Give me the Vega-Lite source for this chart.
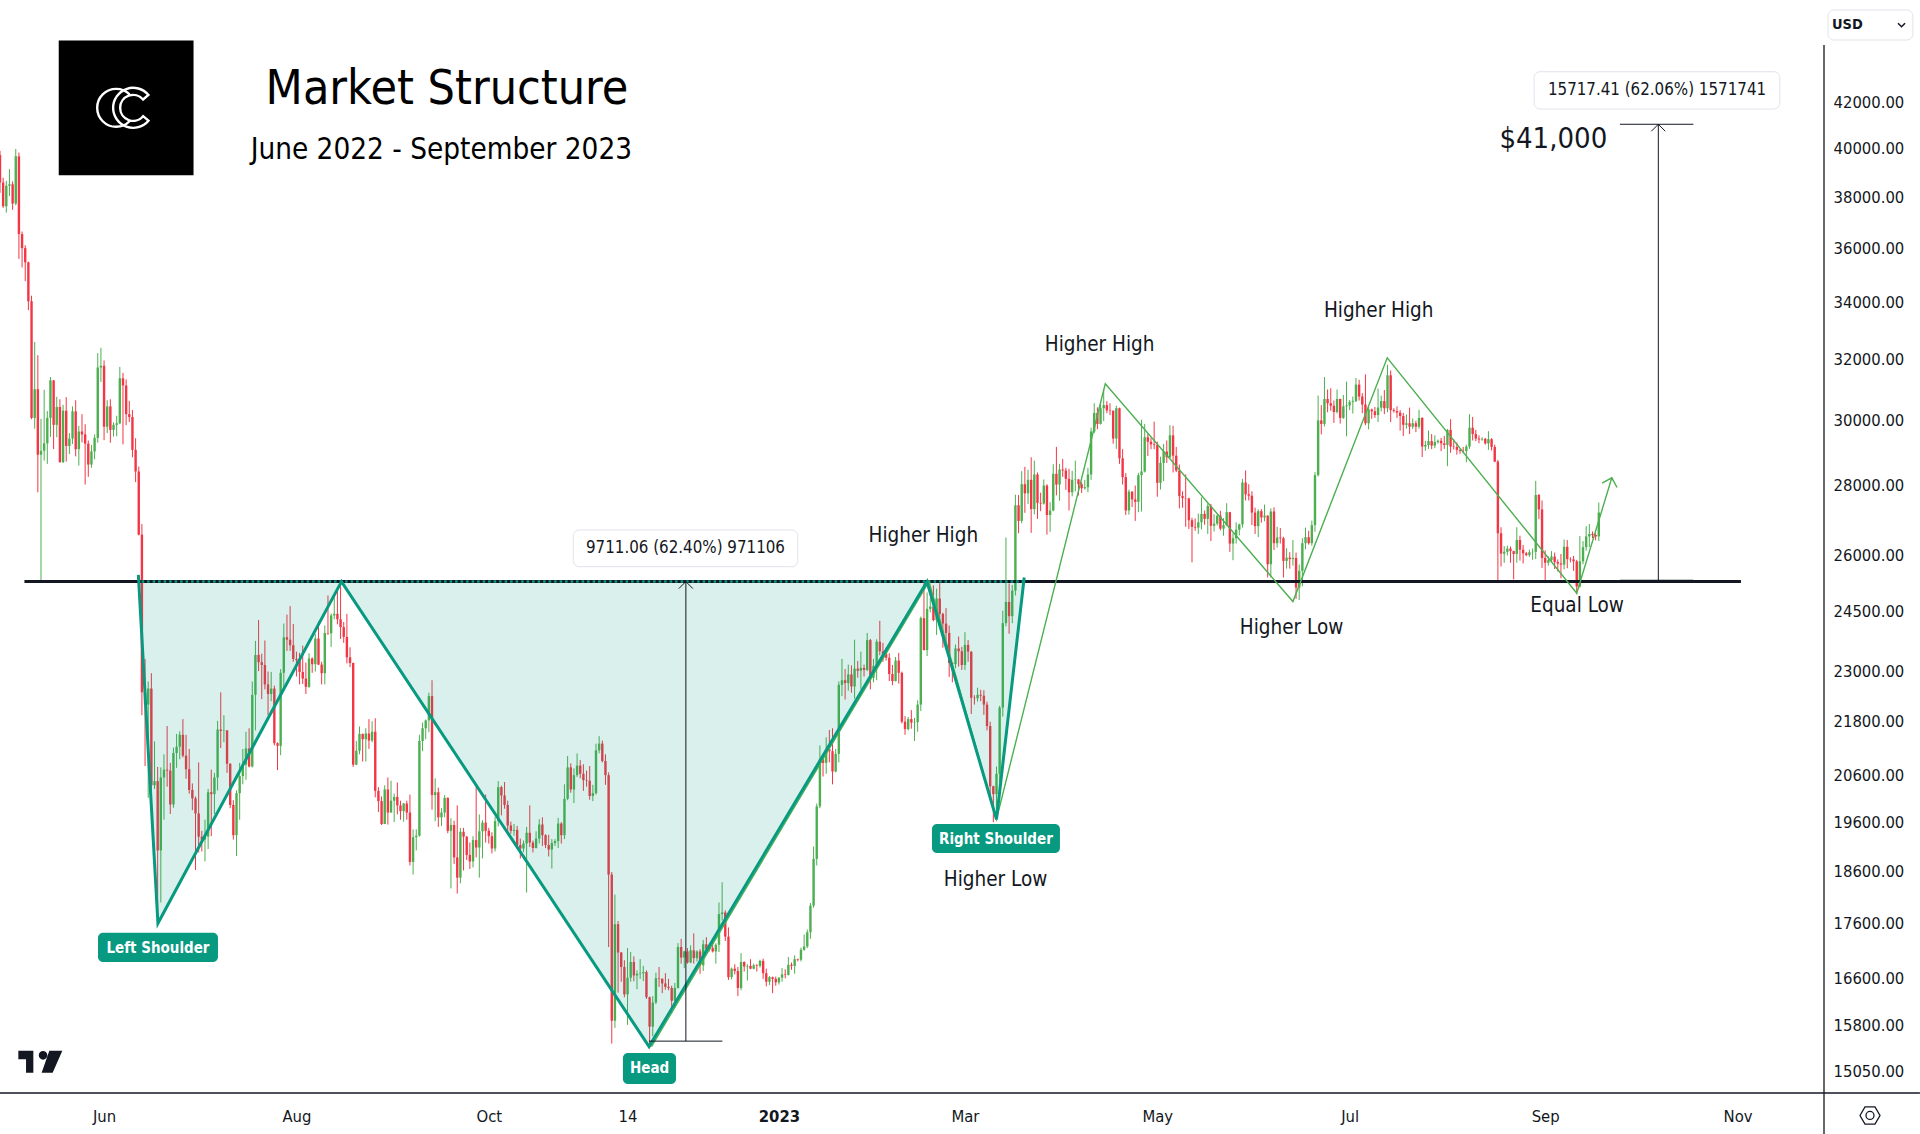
{
  "$schema": "https://vega.github.io/schema/vega-lite/v6.json",
  "width": 1824,
  "height": 1093,
  "autosize": {"type": "none"},
  "padding": {"left": 0, "top": 0, "right": 96, "bottom": 41},
  "background": "white",
  "config": {"view": {"stroke": null}, "font": "DejaVu Sans Condensed"},
  "datasets": {
    "candles": [
      {"date":"2022-04-29","open":39740,"high":39920,"low":38180,"close":38600},
      {"date":"2022-04-30","open":38600,"high":38800,"low":37580,"close":37640},
      {"date":"2022-05-01","open":37640,"high":38670,"low":37390,"close":38470},
      {"date":"2022-05-02","open":38470,"high":39150,"low":38050,"close":38530},
      {"date":"2022-05-03","open":38530,"high":38650,"low":37500,"close":37750},
      {"date":"2022-05-04","open":37750,"high":40000,"low":37680,"close":39690},
      {"date":"2022-05-05","open":39690,"high":39850,"low":35600,"close":36550},
      {"date":"2022-05-06","open":36550,"high":36650,"low":35280,"close":36010},
      {"date":"2022-05-07","open":36010,"high":36120,"low":34770,"close":35470},
      {"date":"2022-05-08","open":35470,"high":35500,"low":33720,"close":34040},
      {"date":"2022-05-09","open":34040,"high":34240,"low":30040,"close":30080},
      {"date":"2022-05-10","open":30080,"high":32600,"low":29740,"close":31010},
      {"date":"2022-05-11","open":31010,"high":32150,"low":27800,"close":28930},
      {"date":"2022-05-12","open":28930,"high":30050,"low":25300,"close":29050},
      {"date":"2022-05-13","open":29050,"high":30990,"low":28750,"close":29280},
      {"date":"2022-05-14","open":29280,"high":30300,"low":28650,"close":30080},
      {"date":"2022-05-15","open":30080,"high":31410,"low":29480,"close":31300},
      {"date":"2022-05-16","open":31300,"high":31310,"low":29100,"close":29860},
      {"date":"2022-05-17","open":29860,"high":30760,"low":29470,"close":30430},
      {"date":"2022-05-18","open":30430,"high":30680,"low":28690,"close":28700},
      {"date":"2022-05-19","open":28700,"high":30500,"low":28680,"close":30310},
      {"date":"2022-05-20","open":30310,"high":30750,"low":28720,"close":29200},
      {"date":"2022-05-21","open":29200,"high":29600,"low":28950,"close":29430},
      {"date":"2022-05-22","open":29430,"high":30450,"low":29260,"close":30290},
      {"date":"2022-05-23","open":30290,"high":30650,"low":28880,"close":29100},
      {"date":"2022-05-24","open":29100,"high":29830,"low":28600,"close":29650},
      {"date":"2022-05-25","open":29650,"high":30200,"low":29310,"close":29560},
      {"date":"2022-05-26","open":29560,"high":29880,"low":28030,"close":29270},
      {"date":"2022-05-27","open":29270,"high":29370,"low":28260,"close":28630},
      {"date":"2022-05-28","open":28630,"high":29230,"low":28530,"close":29030},
      {"date":"2022-05-29","open":29030,"high":29560,"low":28790,"close":29450},
      {"date":"2022-05-30","open":29450,"high":32220,"low":29300,"close":31730},
      {"date":"2022-05-31","open":31730,"high":32400,"low":31250,"close":31790},
      {"date":"2022-06-01","open":31790,"high":31970,"low":29380,"close":29800},
      {"date":"2022-06-02","open":29800,"high":30650,"low":29600,"close":30450},
      {"date":"2022-06-03","open":30450,"high":30680,"low":29300,"close":29700},
      {"date":"2022-06-04","open":29700,"high":29940,"low":29490,"close":29860},
      {"date":"2022-06-05","open":29860,"high":30150,"low":29500,"close":29910},
      {"date":"2022-06-06","open":29910,"high":31750,"low":29880,"close":31370},
      {"date":"2022-06-07","open":31370,"high":31550,"low":29250,"close":31130},
      {"date":"2022-06-08","open":31130,"high":31330,"low":29850,"close":30200},
      {"date":"2022-06-09","open":30200,"high":30630,"low":29950,"close":30110},
      {"date":"2022-06-10","open":30110,"high":30330,"low":28850,"close":29080},
      {"date":"2022-06-11","open":29080,"high":29440,"low":28100,"close":28420},
      {"date":"2022-06-12","open":28420,"high":28570,"low":26560,"close":26580},
      {"date":"2022-06-13","open":26580,"high":26880,"low":21950,"close":22490},
      {"date":"2022-06-14","open":22490,"high":23300,"low":20800,"close":22200},
      {"date":"2022-06-15","open":22200,"high":22750,"low":20110,"close":22580},
      {"date":"2022-06-16","open":22580,"high":22950,"low":20250,"close":20380},
      {"date":"2022-06-17","open":20380,"high":21350,"low":20300,"close":20470},
      {"date":"2022-06-18","open":20470,"high":20780,"low":17620,"close":19020},
      {"date":"2022-06-19","open":19020,"high":20770,"low":18000,"close":20550},
      {"date":"2022-06-20","open":20550,"high":21060,"low":19650,"close":20720},
      {"date":"2022-06-21","open":20720,"high":21700,"low":20350,"close":20700},
      {"date":"2022-06-22","open":20700,"high":20870,"low":19770,"close":19970},
      {"date":"2022-06-23","open":19970,"high":21210,"low":19900,"close":21090},
      {"date":"2022-06-24","open":21090,"high":21520,"low":20760,"close":21230},
      {"date":"2022-06-25","open":21230,"high":21580,"low":20950,"close":21500},
      {"date":"2022-06-26","open":21500,"high":21860,"low":20990,"close":21030},
      {"date":"2022-06-27","open":21030,"high":21500,"low":20520,"close":20730},
      {"date":"2022-06-28","open":20730,"high":21180,"low":20200,"close":20280},
      {"date":"2022-06-29","open":20280,"high":20420,"low":19850,"close":20100},
      {"date":"2022-06-30","open":20100,"high":20140,"low":18630,"close":19780},
      {"date":"2022-07-01","open":19780,"high":20880,"low":18980,"close":19300},
      {"date":"2022-07-02","open":19300,"high":19420,"low":19000,"close":19240},
      {"date":"2022-07-03","open":19240,"high":19650,"low":18800,"close":19300},
      {"date":"2022-07-04","open":19300,"high":20300,"low":19050,"close":20230},
      {"date":"2022-07-05","open":20230,"high":20720,"low":19310,"close":20190},
      {"date":"2022-07-06","open":20190,"high":20650,"low":19770,"close":20550},
      {"date":"2022-07-07","open":20550,"high":21820,"low":20270,"close":21620},
      {"date":"2022-07-08","open":21620,"high":22490,"low":21200,"close":21590},
      {"date":"2022-07-09","open":21590,"high":21950,"low":21330,"close":21600},
      {"date":"2022-07-10","open":21600,"high":21610,"low":20650,"close":20850},
      {"date":"2022-07-11","open":20850,"high":20860,"low":19890,"close":19960},
      {"date":"2022-07-12","open":19960,"high":20060,"low":19240,"close":19330},
      {"date":"2022-07-13","open":19330,"high":20270,"low":18910,"close":20210},
      {"date":"2022-07-14","open":20210,"high":20870,"low":19650,"close":20580},
      {"date":"2022-07-15","open":20580,"high":21180,"low":20400,"close":20830},
      {"date":"2022-07-16","open":20830,"high":21570,"low":20500,"close":21190},
      {"date":"2022-07-17","open":21190,"high":21650,"low":20770,"close":20790},
      {"date":"2022-07-18","open":20790,"high":22750,"low":20770,"close":22430},
      {"date":"2022-07-19","open":22430,"high":23750,"low":21600,"close":23400},
      {"date":"2022-07-20","open":23400,"high":24280,"low":23000,"close":23220},
      {"date":"2022-07-21","open":23220,"high":23430,"low":22330,"close":23150},
      {"date":"2022-07-22","open":23150,"high":23760,"low":22560,"close":22680},
      {"date":"2022-07-23","open":22680,"high":22990,"low":21950,"close":22450},
      {"date":"2022-07-24","open":22450,"high":22980,"low":22280,"close":22580},
      {"date":"2022-07-25","open":22580,"high":22650,"low":21260,"close":21310},
      {"date":"2022-07-26","open":21310,"high":21330,"low":20710,"close":21250},
      {"date":"2022-07-27","open":21250,"high":23050,"low":21040,"close":22960},
      {"date":"2022-07-28","open":22960,"high":24190,"low":22590,"close":23840},
      {"date":"2022-07-29","open":23840,"high":24420,"low":23500,"close":23780},
      {"date":"2022-07-30","open":23780,"high":24640,"low":23500,"close":23640},
      {"date":"2022-07-31","open":23640,"high":24180,"low":23230,"close":23300},
      {"date":"2022-08-01","open":23300,"high":23480,"low":22870,"close":23270},
      {"date":"2022-08-02","open":23270,"high":23450,"low":22680,"close":22980},
      {"date":"2022-08-03","open":22980,"high":23630,"low":22690,"close":22820},
      {"date":"2022-08-04","open":22820,"high":23210,"low":22450,"close":22620},
      {"date":"2022-08-05","open":22620,"high":23440,"low":22600,"close":23310},
      {"date":"2022-08-06","open":23310,"high":23340,"low":22960,"close":23170},
      {"date":"2022-08-07","open":23170,"high":23920,"low":22990,"close":23810},
      {"date":"2022-08-08","open":23810,"high":24240,"low":23150,"close":23160},
      {"date":"2022-08-09","open":23160,"high":23230,"low":22680,"close":22950},
      {"date":"2022-08-10","open":22950,"high":24140,"low":22680,"close":23950},
      {"date":"2022-08-11","open":23950,"high":24920,"low":23900,"close":23940},
      {"date":"2022-08-12","open":23940,"high":24450,"low":23600,"close":24400},
      {"date":"2022-08-13","open":24400,"high":24870,"low":24300,"close":24440},
      {"date":"2022-08-14","open":24440,"high":25050,"low":24170,"close":24300},
      {"date":"2022-08-15","open":24300,"high":25250,"low":23800,"close":24100},
      {"date":"2022-08-16","open":24100,"high":24230,"low":23700,"close":23850},
      {"date":"2022-08-17","open":23850,"high":24440,"low":23190,"close":23340},
      {"date":"2022-08-18","open":23340,"high":23590,"low":23100,"close":23200},
      {"date":"2022-08-19","open":23200,"high":23210,"low":20780,"close":20830},
      {"date":"2022-08-20","open":20830,"high":21360,"low":20820,"close":21140},
      {"date":"2022-08-21","open":21140,"high":21690,"low":21060,"close":21520},
      {"date":"2022-08-22","open":21520,"high":21530,"low":20900,"close":21400},
      {"date":"2022-08-23","open":21400,"high":21650,"low":20900,"close":21530},
      {"date":"2022-08-24","open":21530,"high":21860,"low":21180,"close":21370},
      {"date":"2022-08-25","open":21370,"high":21810,"low":21330,"close":21570},
      {"date":"2022-08-26","open":21570,"high":21880,"low":20120,"close":20260},
      {"date":"2022-08-27","open":20260,"high":20340,"low":19810,"close":20040},
      {"date":"2022-08-28","open":20040,"high":20140,"low":19540,"close":19560},
      {"date":"2022-08-29","open":19560,"high":20380,"low":19560,"close":20290},
      {"date":"2022-08-30","open":20290,"high":20550,"low":19550,"close":19800},
      {"date":"2022-08-31","open":19800,"high":20480,"low":19800,"close":20050},
      {"date":"2022-09-01","open":20050,"high":20200,"low":19600,"close":20130},
      {"date":"2022-09-02","open":20130,"high":20440,"low":19760,"close":19950},
      {"date":"2022-09-03","open":19950,"high":20050,"low":19650,"close":19830},
      {"date":"2022-09-04","open":19830,"high":20000,"low":19610,"close":19990},
      {"date":"2022-09-05","open":19990,"high":20050,"low":19650,"close":19800},
      {"date":"2022-09-06","open":19800,"high":20180,"low":18720,"close":18790},
      {"date":"2022-09-07","open":18790,"high":19450,"low":18540,"close":19290},
      {"date":"2022-09-08","open":19290,"high":19450,"low":19020,"close":19320},
      {"date":"2022-09-09","open":19320,"high":21500,"low":19300,"close":21360},
      {"date":"2022-09-10","open":21360,"high":21780,"low":21130,"close":21650},
      {"date":"2022-09-11","open":21650,"high":21850,"low":21400,"close":21830},
      {"date":"2022-09-12","open":21830,"high":22480,"low":21560,"close":22400},
      {"date":"2022-09-13","open":22400,"high":22780,"low":19860,"close":20170},
      {"date":"2022-09-14","open":20170,"high":20530,"low":19620,"close":20230},
      {"date":"2022-09-15","open":20230,"high":20330,"low":19500,"close":19700},
      {"date":"2022-09-16","open":19700,"high":19890,"low":19520,"close":19800},
      {"date":"2022-09-17","open":19800,"high":20170,"low":19700,"close":20110},
      {"date":"2022-09-18","open":20110,"high":20120,"low":19370,"close":19420},
      {"date":"2022-09-19","open":19420,"high":19680,"low":18270,"close":19540},
      {"date":"2022-09-20","open":19540,"high":19630,"low":18750,"close":18880},
      {"date":"2022-09-21","open":18880,"high":19950,"low":18170,"close":18480},
      {"date":"2022-09-22","open":18480,"high":19480,"low":18370,"close":19400},
      {"date":"2022-09-23","open":19400,"high":19480,"low":18620,"close":19300},
      {"date":"2022-09-24","open":19300,"high":19310,"low":18830,"close":18930},
      {"date":"2022-09-25","open":18930,"high":19180,"low":18650,"close":18800},
      {"date":"2022-09-26","open":18800,"high":19310,"low":18680,"close":19230},
      {"date":"2022-09-27","open":19230,"high":20350,"low":18880,"close":19080},
      {"date":"2022-09-28","open":19080,"high":19760,"low":18480,"close":19410},
      {"date":"2022-09-29","open":19410,"high":19640,"low":18860,"close":19590},
      {"date":"2022-09-30","open":19590,"high":20180,"low":19180,"close":19420},
      {"date":"2022-10-01","open":19420,"high":19480,"low":19160,"close":19310},
      {"date":"2022-10-02","open":19310,"high":19390,"low":18960,"close":19060},
      {"date":"2022-10-03","open":19060,"high":19710,"low":19000,"close":19620},
      {"date":"2022-10-04","open":19620,"high":20470,"low":19510,"close":20340},
      {"date":"2022-10-05","open":20340,"high":20370,"low":19740,"close":20160},
      {"date":"2022-10-06","open":20160,"high":20450,"low":19880,"close":19960},
      {"date":"2022-10-07","open":19960,"high":20050,"low":19330,"close":19530},
      {"date":"2022-10-08","open":19530,"high":19610,"low":19360,"close":19420},
      {"date":"2022-10-09","open":19420,"high":19560,"low":19320,"close":19440},
      {"date":"2022-10-10","open":19440,"high":19520,"low":19050,"close":19130},
      {"date":"2022-10-11","open":19130,"high":19260,"low":18860,"close":19060},
      {"date":"2022-10-12","open":19060,"high":19220,"low":18990,"close":19160},
      {"date":"2022-10-13","open":19160,"high":19500,"low":18190,"close":19380},
      {"date":"2022-10-14","open":19380,"high":19950,"low":19090,"close":19180},
      {"date":"2022-10-15","open":19180,"high":19220,"low":18980,"close":19070},
      {"date":"2022-10-16","open":19070,"high":19410,"low":19060,"close":19260},
      {"date":"2022-10-17","open":19260,"high":19660,"low":19160,"close":19550},
      {"date":"2022-10-18","open":19550,"high":19700,"low":19110,"close":19330},
      {"date":"2022-10-19","open":19330,"high":19350,"low":19070,"close":19130},
      {"date":"2022-10-20","open":19130,"high":19340,"low":18900,"close":19040},
      {"date":"2022-10-21","open":19040,"high":19250,"low":18660,"close":19170},
      {"date":"2022-10-22","open":19170,"high":19250,"low":19110,"close":19210},
      {"date":"2022-10-23","open":19210,"high":19690,"low":19070,"close":19570},
      {"date":"2022-10-24","open":19570,"high":19600,"low":19160,"close":19330},
      {"date":"2022-10-25","open":19330,"high":20400,"low":19250,"close":20090},
      {"date":"2022-10-26","open":20090,"high":21020,"low":20060,"close":20770},
      {"date":"2022-10-27","open":20770,"high":20860,"low":20220,"close":20290},
      {"date":"2022-10-28","open":20290,"high":20750,"low":20000,"close":20600},
      {"date":"2022-10-29","open":20600,"high":21080,"low":20560,"close":20810},
      {"date":"2022-10-30","open":20810,"high":20930,"low":20530,"close":20630},
      {"date":"2022-10-31","open":20630,"high":20840,"low":20260,"close":20490},
      {"date":"2022-11-01","open":20490,"high":20700,"low":20350,"close":20480},
      {"date":"2022-11-02","open":20480,"high":20800,"low":20070,"close":20150},
      {"date":"2022-11-03","open":20150,"high":20390,"low":20040,"close":20210},
      {"date":"2022-11-04","open":20210,"high":21300,"low":20180,"close":21150},
      {"date":"2022-11-05","open":21150,"high":21470,"low":21080,"close":21300},
      {"date":"2022-11-06","open":21300,"high":21370,"low":20880,"close":20910},
      {"date":"2022-11-07","open":20910,"high":21060,"low":20390,"close":20600},
      {"date":"2022-11-08","open":20600,"high":20660,"low":17170,"close":18540},
      {"date":"2022-11-09","open":18540,"high":18590,"low":15500,"close":15880},
      {"date":"2022-11-10","open":15880,"high":18150,"low":15760,"close":17590},
      {"date":"2022-11-11","open":17590,"high":17650,"low":16360,"close":17070},
      {"date":"2022-11-12","open":17070,"high":17080,"low":16550,"close":16810},
      {"date":"2022-11-13","open":16810,"high":16930,"low":16280,"close":16330},
      {"date":"2022-11-14","open":16330,"high":17150,"low":15810,"close":16620},
      {"date":"2022-11-15","open":16620,"high":17080,"low":16550,"close":16900},
      {"date":"2022-11-16","open":16900,"high":17000,"low":16560,"close":16660},
      {"date":"2022-11-17","open":16660,"high":16750,"low":16420,"close":16690},
      {"date":"2022-11-18","open":16690,"high":16950,"low":16600,"close":16700},
      {"date":"2022-11-19","open":16700,"high":16830,"low":16560,"close":16720},
      {"date":"2022-11-20","open":16720,"high":16750,"low":16250,"close":16280},
      {"date":"2022-11-21","open":16280,"high":16290,"low":15480,"close":15780},
      {"date":"2022-11-22","open":15780,"high":16300,"low":15620,"close":16190},
      {"date":"2022-11-23","open":16190,"high":16710,"low":16160,"close":16610},
      {"date":"2022-11-24","open":16610,"high":16810,"low":16460,"close":16600},
      {"date":"2022-11-25","open":16600,"high":16610,"low":16350,"close":16520},
      {"date":"2022-11-26","open":16520,"high":16700,"low":16410,"close":16460},
      {"date":"2022-11-27","open":16460,"high":16600,"low":16400,"close":16440},
      {"date":"2022-11-28","open":16440,"high":16480,"low":16000,"close":16220},
      {"date":"2022-11-29","open":16220,"high":16530,"low":16110,"close":16440},
      {"date":"2022-11-30","open":16440,"high":17240,"low":16430,"close":17170},
      {"date":"2022-12-01","open":17170,"high":17320,"low":16870,"close":16980},
      {"date":"2022-12-02","open":16980,"high":17100,"low":16790,"close":17090},
      {"date":"2022-12-03","open":17090,"high":17150,"low":16870,"close":16890},
      {"date":"2022-12-04","open":16890,"high":17200,"low":16880,"close":17110},
      {"date":"2022-12-05","open":17110,"high":17420,"low":16870,"close":16970},
      {"date":"2022-12-06","open":16970,"high":17110,"low":16910,"close":17090},
      {"date":"2022-12-07","open":17090,"high":17130,"low":16690,"close":16840},
      {"date":"2022-12-08","open":16840,"high":17300,"low":16740,"close":17220},
      {"date":"2022-12-09","open":17220,"high":17350,"low":17100,"close":17130},
      {"date":"2022-12-10","open":17130,"high":17230,"low":17090,"close":17150},
      {"date":"2022-12-11","open":17150,"high":17270,"low":17070,"close":17090},
      {"date":"2022-12-12","open":17090,"high":17240,"low":16870,"close":17210},
      {"date":"2022-12-13","open":17210,"high":18000,"low":17080,"close":17780},
      {"date":"2022-12-14","open":17780,"high":18390,"low":17660,"close":17810},
      {"date":"2022-12-15","open":17810,"high":17850,"low":17280,"close":17360},
      {"date":"2022-12-16","open":17360,"high":17530,"low":16580,"close":16630},
      {"date":"2022-12-17","open":16630,"high":16800,"low":16590,"close":16780},
      {"date":"2022-12-18","open":16780,"high":16860,"low":16680,"close":16740},
      {"date":"2022-12-19","open":16740,"high":16810,"low":16300,"close":16440},
      {"date":"2022-12-20","open":16440,"high":17060,"low":16400,"close":16900},
      {"date":"2022-12-21","open":16900,"high":16910,"low":16730,"close":16820},
      {"date":"2022-12-22","open":16820,"high":16860,"low":16570,"close":16830},
      {"date":"2022-12-23","open":16830,"high":16950,"low":16770,"close":16780},
      {"date":"2022-12-24","open":16780,"high":16870,"low":16770,"close":16840},
      {"date":"2022-12-25","open":16840,"high":16860,"low":16730,"close":16830},
      {"date":"2022-12-26","open":16830,"high":16940,"low":16800,"close":16920},
      {"date":"2022-12-27","open":16920,"high":16960,"low":16600,"close":16700},
      {"date":"2022-12-28","open":16700,"high":16780,"low":16470,"close":16550},
      {"date":"2022-12-29","open":16550,"high":16650,"low":16490,"close":16630},
      {"date":"2022-12-30","open":16630,"high":16640,"low":16350,"close":16600},
      {"date":"2022-12-31","open":16600,"high":16640,"low":16480,"close":16540},
      {"date":"2023-01-01","open":16540,"high":16630,"low":16500,"close":16620},
      {"date":"2023-01-02","open":16620,"high":16790,"low":16550,"close":16680},
      {"date":"2023-01-03","open":16680,"high":16770,"low":16610,"close":16670},
      {"date":"2023-01-04","open":16670,"high":16990,"low":16660,"close":16850},
      {"date":"2023-01-05","open":16850,"high":16890,"low":16760,"close":16830},
      {"date":"2023-01-06","open":16830,"high":17020,"low":16690,"close":16950},
      {"date":"2023-01-07","open":16950,"high":16960,"low":16910,"close":16940},
      {"date":"2023-01-08","open":16940,"high":17160,"low":16910,"close":17120},
      {"date":"2023-01-09","open":17120,"high":17400,"low":17100,"close":17180},
      {"date":"2023-01-10","open":17180,"high":17490,"low":17150,"close":17440},
      {"date":"2023-01-11","open":17440,"high":17990,"low":17320,"close":17940},
      {"date":"2023-01-12","open":17940,"high":19100,"low":17900,"close":18850},
      {"date":"2023-01-13","open":18850,"high":19990,"low":18720,"close":19930},
      {"date":"2023-01-14","open":19930,"high":21260,"low":19890,"close":20950},
      {"date":"2023-01-15","open":20950,"high":21060,"low":20570,"close":20870},
      {"date":"2023-01-16","open":20870,"high":21440,"low":20630,"close":21170},
      {"date":"2023-01-17","open":21170,"high":21610,"low":20880,"close":21130},
      {"date":"2023-01-18","open":21130,"high":21650,"low":20400,"close":20680},
      {"date":"2023-01-19","open":20680,"high":21180,"low":20660,"close":21070},
      {"date":"2023-01-20","open":21070,"high":22750,"low":20880,"close":22670},
      {"date":"2023-01-21","open":22670,"high":23300,"low":22400,"close":22780},
      {"date":"2023-01-22","open":22780,"high":23050,"low":22320,"close":22710},
      {"date":"2023-01-23","open":22710,"high":23160,"low":22530,"close":22920},
      {"date":"2023-01-24","open":22920,"high":23140,"low":22480,"close":22630},
      {"date":"2023-01-25","open":22630,"high":23780,"low":22340,"close":23060},
      {"date":"2023-01-26","open":23060,"high":23250,"low":22840,"close":23010},
      {"date":"2023-01-27","open":23010,"high":23480,"low":22560,"close":23080},
      {"date":"2023-01-28","open":23080,"high":23160,"low":22870,"close":23030},
      {"date":"2023-01-29","open":23030,"high":23950,"low":23000,"close":23770},
      {"date":"2023-01-30","open":23770,"high":23800,"low":22560,"close":22840},
      {"date":"2023-01-31","open":22840,"high":23300,"low":22730,"close":23130},
      {"date":"2023-02-01","open":23130,"high":23790,"low":22780,"close":23730},
      {"date":"2023-02-02","open":23730,"high":24260,"low":23390,"close":23490},
      {"date":"2023-02-03","open":23490,"high":23700,"low":23230,"close":23430},
      {"date":"2023-02-04","open":23430,"high":23580,"low":23260,"close":23330},
      {"date":"2023-02-05","open":23330,"high":23440,"low":22760,"close":22930},
      {"date":"2023-02-06","open":22930,"high":23150,"low":22660,"close":22760},
      {"date":"2023-02-07","open":22760,"high":23350,"low":22750,"close":23260},
      {"date":"2023-02-08","open":23260,"high":23450,"low":22700,"close":22960},
      {"date":"2023-02-09","open":22960,"high":22990,"low":21760,"close":21800},
      {"date":"2023-02-10","open":21800,"high":21930,"low":21500,"close":21630},
      {"date":"2023-02-11","open":21630,"high":21910,"low":21600,"close":21860},
      {"date":"2023-02-12","open":21860,"high":22070,"low":21640,"close":21780},
      {"date":"2023-02-13","open":21780,"high":21890,"low":21360,"close":21790},
      {"date":"2023-02-14","open":21790,"high":22300,"low":21570,"close":22200},
      {"date":"2023-02-15","open":22200,"high":24370,"low":22050,"close":24330},
      {"date":"2023-02-16","open":24330,"high":25250,"low":23510,"close":23520},
      {"date":"2023-02-17","open":23520,"high":25000,"low":23370,"close":24570},
      {"date":"2023-02-18","open":24570,"high":24860,"low":24480,"close":24630},
      {"date":"2023-02-19","open":24630,"high":25190,"low":24250,"close":24280},
      {"date":"2023-02-20","open":24280,"high":25100,"low":23900,"close":24840},
      {"date":"2023-02-21","open":24840,"high":25250,"low":24170,"close":24440},
      {"date":"2023-02-22","open":24440,"high":24470,"low":23580,"close":24190},
      {"date":"2023-02-23","open":24190,"high":24590,"low":23630,"close":23950},
      {"date":"2023-02-24","open":23950,"high":24140,"low":22860,"close":23200},
      {"date":"2023-02-25","open":23200,"high":23220,"low":22730,"close":23170},
      {"date":"2023-02-26","open":23170,"high":23660,"low":23070,"close":23560},
      {"date":"2023-02-27","open":23560,"high":23860,"low":23110,"close":23490},
      {"date":"2023-02-28","open":23490,"high":23600,"low":23030,"close":23150},
      {"date":"2023-03-01","open":23150,"high":23970,"low":23030,"close":23650},
      {"date":"2023-03-02","open":23650,"high":23770,"low":23230,"close":23480},
      {"date":"2023-03-03","open":23480,"high":23490,"low":21980,"close":22360},
      {"date":"2023-03-04","open":22360,"high":22420,"low":22200,"close":22350},
      {"date":"2023-03-05","open":22350,"high":22600,"low":22270,"close":22430},
      {"date":"2023-03-06","open":22430,"high":22550,"low":22280,"close":22410},
      {"date":"2023-03-07","open":22410,"high":22540,"low":21960,"close":22200},
      {"date":"2023-03-08","open":22200,"high":22270,"low":21600,"close":21700},
      {"date":"2023-03-09","open":21700,"high":21800,"low":20080,"close":20360},
      {"date":"2023-03-10","open":20360,"high":20370,"low":19600,"close":20190},
      {"date":"2023-03-11","open":20190,"high":20790,"low":19860,"close":20630},
      {"date":"2023-03-12","open":20630,"high":22170,"low":20450,"close":22130},
      {"date":"2023-03-13","open":22130,"high":24520,"low":21920,"close":24200},
      {"date":"2023-03-14","open":24200,"high":26500,"low":24120,"close":24750},
      {"date":"2023-03-15","open":24750,"high":25240,"low":23930,"close":24380},
      {"date":"2023-03-16","open":24380,"high":25200,"low":24200,"close":25050},
      {"date":"2023-03-17","open":25050,"high":27730,"low":24920,"close":27420},
      {"date":"2023-03-18","open":27420,"high":27720,"low":26620,"close":26970},
      {"date":"2023-03-19","open":26970,"high":28430,"low":26900,"close":28040},
      {"date":"2023-03-20","open":28040,"high":28560,"low":27200,"close":27770},
      {"date":"2023-03-21","open":27770,"high":28470,"low":27460,"close":28170},
      {"date":"2023-03-22","open":28170,"high":28850,"low":26630,"close":27310},
      {"date":"2023-03-23","open":27310,"high":28750,"low":27160,"close":28330},
      {"date":"2023-03-24","open":28330,"high":28390,"low":27030,"close":27490},
      {"date":"2023-03-25","open":27490,"high":27790,"low":27250,"close":27470},
      {"date":"2023-03-26","open":27470,"high":28180,"low":27440,"close":28000},
      {"date":"2023-03-27","open":28000,"high":28040,"low":26580,"close":27140},
      {"date":"2023-03-28","open":27140,"high":27510,"low":26660,"close":27270},
      {"date":"2023-03-29","open":27270,"high":28640,"low":27250,"close":28350},
      {"date":"2023-03-30","open":28350,"high":29170,"low":27710,"close":28030},
      {"date":"2023-03-31","open":28030,"high":28650,"low":27550,"close":28480},
      {"date":"2023-04-01","open":28480,"high":28800,"low":28260,"close":28450},
      {"date":"2023-04-02","open":28450,"high":28530,"low":27870,"close":28200},
      {"date":"2023-04-03","open":28200,"high":28500,"low":27270,"close":27800},
      {"date":"2023-04-04","open":27800,"high":28440,"low":27680,"close":28170},
      {"date":"2023-04-05","open":28170,"high":28750,"low":27830,"close":28180},
      {"date":"2023-04-06","open":28180,"high":28190,"low":27710,"close":28040},
      {"date":"2023-04-07","open":28040,"high":28100,"low":27780,"close":27920},
      {"date":"2023-04-08","open":27920,"high":28170,"low":27880,"close":27950},
      {"date":"2023-04-09","open":27950,"high":28530,"low":27800,"close":28330},
      {"date":"2023-04-10","open":28330,"high":29770,"low":28170,"close":29650},
      {"date":"2023-04-11","open":29650,"high":30550,"low":29600,"close":30240},
      {"date":"2023-04-12","open":30240,"high":30420,"low":29720,"close":29890},
      {"date":"2023-04-13","open":29890,"high":30610,"low":29870,"close":30390},
      {"date":"2023-04-14","open":30390,"high":31000,"low":29980,"close":30490},
      {"date":"2023-04-15","open":30490,"high":30620,"low":30230,"close":30320},
      {"date":"2023-04-16","open":30320,"high":30550,"low":30170,"close":30310},
      {"date":"2023-04-17","open":30310,"high":30320,"low":29270,"close":29430},
      {"date":"2023-04-18","open":29430,"high":30470,"low":29110,"close":30390},
      {"date":"2023-04-19","open":30390,"high":30410,"low":28650,"close":28820},
      {"date":"2023-04-20","open":28820,"high":29100,"low":28030,"close":28250},
      {"date":"2023-04-21","open":28250,"high":28370,"low":27140,"close":27270},
      {"date":"2023-04-22","open":27270,"high":27880,"low":27150,"close":27820},
      {"date":"2023-04-23","open":27820,"high":27830,"low":27370,"close":27590},
      {"date":"2023-04-24","open":27590,"high":28000,"low":26970,"close":27520},
      {"date":"2023-04-25","open":27520,"high":28380,"low":27220,"close":28310},
      {"date":"2023-04-26","open":28310,"high":30020,"low":27240,"close":28420},
      {"date":"2023-04-27","open":28420,"high":29890,"low":28390,"close":29470},
      {"date":"2023-04-28","open":29470,"high":29580,"low":28890,"close":29330},
      {"date":"2023-04-29","open":29330,"high":29450,"low":29100,"close":29250},
      {"date":"2023-04-30","open":29250,"high":29960,"low":29100,"close":29230},
      {"date":"2023-05-01","open":29230,"high":29330,"low":27670,"close":28080},
      {"date":"2023-05-02","open":28080,"high":28870,"low":27880,"close":28680},
      {"date":"2023-05-03","open":28680,"high":29260,"low":28130,"close":29030},
      {"date":"2023-05-04","open":29030,"high":29370,"low":28680,"close":28850},
      {"date":"2023-05-05","open":28850,"high":29850,"low":28830,"close":29530},
      {"date":"2023-05-06","open":29530,"high":29830,"low":28390,"close":28900},
      {"date":"2023-05-07","open":28900,"high":29170,"low":28400,"close":28450},
      {"date":"2023-05-08","open":28450,"high":28630,"low":27330,"close":27690},
      {"date":"2023-05-09","open":27690,"high":27830,"low":27350,"close":27630},
      {"date":"2023-05-10","open":27630,"high":28330,"low":26800,"close":27620},
      {"date":"2023-05-11","open":27620,"high":27640,"low":26740,"close":26990},
      {"date":"2023-05-12","open":26990,"high":27060,"low":25810,"close":26800},
      {"date":"2023-05-13","open":26800,"high":27040,"low":26690,"close":26780},
      {"date":"2023-05-14","open":26780,"high":27180,"low":26600,"close":26930},
      {"date":"2023-05-15","open":26930,"high":27650,"low":26730,"close":27170},
      {"date":"2023-05-16","open":27170,"high":27270,"low":26860,"close":27030},
      {"date":"2023-05-17","open":27030,"high":27480,"low":26600,"close":27400},
      {"date":"2023-05-18","open":27400,"high":27460,"low":26400,"close":26830},
      {"date":"2023-05-19","open":26830,"high":27160,"low":26670,"close":26890},
      {"date":"2023-05-20","open":26890,"high":27150,"low":26840,"close":27120},
      {"date":"2023-05-21","open":27120,"high":27260,"low":26700,"close":26750},
      {"date":"2023-05-22","open":26750,"high":27050,"low":26550,"close":26850},
      {"date":"2023-05-23","open":26850,"high":27480,"low":26830,"close":27220},
      {"date":"2023-05-24","open":27220,"high":27230,"low":26100,"close":26330},
      {"date":"2023-05-25","open":26330,"high":26620,"low":25870,"close":26480},
      {"date":"2023-05-26","open":26480,"high":26930,"low":26330,"close":26720},
      {"date":"2023-05-27","open":26720,"high":26890,"low":26560,"close":26870},
      {"date":"2023-05-28","open":26870,"high":28200,"low":26780,"close":28090},
      {"date":"2023-05-29","open":28090,"high":28450,"low":27560,"close":27740},
      {"date":"2023-05-30","open":27740,"high":28040,"low":27560,"close":27700},
      {"date":"2023-05-31","open":27700,"high":27830,"low":26850,"close":27210},
      {"date":"2023-06-01","open":27210,"high":27350,"low":26600,"close":26820},
      {"date":"2023-06-02","open":26820,"high":27300,"low":26510,"close":27250},
      {"date":"2023-06-03","open":27250,"high":27310,"low":26920,"close":27070},
      {"date":"2023-06-04","open":27070,"high":27440,"low":26960,"close":27120},
      {"date":"2023-06-05","open":27120,"high":27130,"low":25400,"close":25760},
      {"date":"2023-06-06","open":25760,"high":27330,"low":25400,"close":27240},
      {"date":"2023-06-07","open":27240,"high":27360,"low":26150,"close":26340},
      {"date":"2023-06-08","open":26340,"high":26800,"low":26220,"close":26500},
      {"date":"2023-06-09","open":26500,"high":26770,"low":26330,"close":26480},
      {"date":"2023-06-10","open":26480,"high":26520,"low":25400,"close":25850},
      {"date":"2023-06-11","open":25850,"high":26200,"low":25640,"close":25940},
      {"date":"2023-06-12","open":25940,"high":26090,"low":25640,"close":25900},
      {"date":"2023-06-13","open":25900,"high":26430,"low":25720,"close":25930},
      {"date":"2023-06-14","open":25930,"high":26080,"low":24830,"close":25130},
      {"date":"2023-06-15","open":25130,"high":25750,"low":24800,"close":25580},
      {"date":"2023-06-16","open":25580,"high":26480,"low":25170,"close":26340},
      {"date":"2023-06-17","open":26340,"high":26780,"low":26170,"close":26510},
      {"date":"2023-06-18","open":26510,"high":26690,"low":26300,"close":26340},
      {"date":"2023-06-19","open":26340,"high":26980,"low":26270,"close":26850},
      {"date":"2023-06-20","open":26850,"high":28400,"low":26660,"close":28310},
      {"date":"2023-06-21","open":28310,"high":30800,"low":28270,"close":30000},
      {"date":"2023-06-22","open":30000,"high":30490,"low":29560,"close":29890},
      {"date":"2023-06-23","open":29890,"high":31410,"low":29810,"close":30690},
      {"date":"2023-06-24","open":30690,"high":31000,"low":30260,"close":30550},
      {"date":"2023-06-25","open":30550,"high":31040,"low":30310,"close":30470},
      {"date":"2023-06-26","open":30470,"high":30640,"low":29920,"close":30270},
      {"date":"2023-06-27","open":30270,"high":31000,"low":30220,"close":30690},
      {"date":"2023-06-28","open":30690,"high":30700,"low":29900,"close":30080},
      {"date":"2023-06-29","open":30080,"high":30820,"low":30050,"close":30450},
      {"date":"2023-06-30","open":30450,"high":31260,"low":29500,"close":30480},
      {"date":"2023-07-01","open":30480,"high":30660,"low":30330,"close":30590},
      {"date":"2023-07-02","open":30590,"high":30770,"low":30220,"close":30620},
      {"date":"2023-07-03","open":30620,"high":31380,"low":30590,"close":31160},
      {"date":"2023-07-04","open":31160,"high":31320,"low":30640,"close":30770},
      {"date":"2023-07-05","open":30770,"high":30880,"low":30230,"close":30510},
      {"date":"2023-07-06","open":30510,"high":31500,"low":29850,"close":29910},
      {"date":"2023-07-07","open":29910,"high":30440,"low":29720,"close":30350},
      {"date":"2023-07-08","open":30350,"high":30380,"low":30050,"close":30290},
      {"date":"2023-07-09","open":30290,"high":30430,"low":30080,"close":30170},
      {"date":"2023-07-10","open":30170,"high":31030,"low":29950,"close":30410},
      {"date":"2023-07-11","open":30410,"high":30800,"low":30290,"close":30620},
      {"date":"2023-07-12","open":30620,"high":30980,"low":30200,"close":30390},
      {"date":"2023-07-13","open":30390,"high":31820,"low":30260,"close":31470},
      {"date":"2023-07-14","open":31470,"high":31630,"low":29950,"close":30330},
      {"date":"2023-07-15","open":30330,"high":30390,"low":30250,"close":30300},
      {"date":"2023-07-16","open":30300,"high":30450,"low":30080,"close":30250},
      {"date":"2023-07-17","open":30250,"high":30330,"low":29680,"close":30140},
      {"date":"2023-07-18","open":30140,"high":30240,"low":29510,"close":29860},
      {"date":"2023-07-19","open":29860,"high":30190,"low":29740,"close":29910},
      {"date":"2023-07-20","open":29910,"high":30410,"low":29570,"close":29800},
      {"date":"2023-07-21","open":29800,"high":30060,"low":29730,"close":29910},
      {"date":"2023-07-22","open":29910,"high":29990,"low":29630,"close":29800},
      {"date":"2023-07-23","open":29800,"high":30340,"low":29740,"close":30080},
      {"date":"2023-07-24","open":30080,"high":30100,"low":28860,"close":29180},
      {"date":"2023-07-25","open":29180,"high":29360,"low":29050,"close":29230},
      {"date":"2023-07-26","open":29230,"high":29680,"low":29110,"close":29350},
      {"date":"2023-07-27","open":29350,"high":29570,"low":29100,"close":29210},
      {"date":"2023-07-28","open":29210,"high":29530,"low":29130,"close":29320},
      {"date":"2023-07-29","open":29320,"high":29400,"low":29270,"close":29360},
      {"date":"2023-07-30","open":29360,"high":29450,"low":29040,"close":29280},
      {"date":"2023-07-31","open":29280,"high":29510,"low":29110,"close":29230},
      {"date":"2023-08-01","open":29230,"high":29730,"low":28580,"close":29700},
      {"date":"2023-08-02","open":29700,"high":30040,"low":28990,"close":29180},
      {"date":"2023-08-03","open":29180,"high":29410,"low":29090,"close":29170},
      {"date":"2023-08-04","open":29170,"high":29310,"low":28930,"close":29080},
      {"date":"2023-08-05","open":29080,"high":29100,"low":28960,"close":29050},
      {"date":"2023-08-06","open":29050,"high":29170,"low":28980,"close":29040},
      {"date":"2023-08-07","open":29040,"high":29240,"low":28700,"close":29180},
      {"date":"2023-08-08","open":29180,"high":30200,"low":29110,"close":29770},
      {"date":"2023-08-09","open":29770,"high":30110,"low":29370,"close":29570},
      {"date":"2023-08-10","open":29570,"high":29700,"low":29350,"close":29430},
      {"date":"2023-08-11","open":29430,"high":29530,"low":29280,"close":29400},
      {"date":"2023-08-12","open":29400,"high":29470,"low":29360,"close":29420},
      {"date":"2023-08-13","open":29420,"high":29450,"low":29240,"close":29280},
      {"date":"2023-08-14","open":29280,"high":29660,"low":29080,"close":29410},
      {"date":"2023-08-15","open":29410,"high":29440,"low":29060,"close":29170},
      {"date":"2023-08-16","open":29170,"high":29240,"low":28700,"close":28720},
      {"date":"2023-08-17","open":28720,"high":28770,"low":25250,"close":26620},
      {"date":"2023-08-18","open":26620,"high":26790,"low":25700,"close":26050},
      {"date":"2023-08-19","open":26050,"high":26260,"low":25800,"close":26100},
      {"date":"2023-08-20","open":26100,"high":26270,"low":26000,"close":26190},
      {"date":"2023-08-21","open":26190,"high":26250,"low":25800,"close":26120},
      {"date":"2023-08-22","open":26120,"high":26130,"low":25350,"close":26040},
      {"date":"2023-08-23","open":26040,"high":26790,"low":25800,"close":26430},
      {"date":"2023-08-24","open":26430,"high":26550,"low":25860,"close":26160},
      {"date":"2023-08-25","open":26160,"high":26290,"low":25780,"close":26060},
      {"date":"2023-08-26","open":26060,"high":26100,"low":25980,"close":26010},
      {"date":"2023-08-27","open":26010,"high":26160,"low":25960,"close":26090},
      {"date":"2023-08-28","open":26090,"high":26190,"low":25880,"close":26100},
      {"date":"2023-08-29","open":26100,"high":28140,"low":25900,"close":27720},
      {"date":"2023-08-30","open":27720,"high":27750,"low":27020,"close":27300},
      {"date":"2023-08-31","open":27300,"high":27560,"low":25660,"close":25930},
      {"date":"2023-09-01","open":25930,"high":26140,"low":25330,"close":25800},
      {"date":"2023-09-02","open":25800,"high":25970,"low":25720,"close":25870},
      {"date":"2023-09-03","open":25870,"high":26120,"low":25820,"close":25970},
      {"date":"2023-09-04","open":25970,"high":26080,"low":25630,"close":25820},
      {"date":"2023-09-05","open":25820,"high":25890,"low":25560,"close":25780},
      {"date":"2023-09-06","open":25780,"high":26040,"low":25380,"close":25750},
      {"date":"2023-09-07","open":25750,"high":26440,"low":25620,"close":26240},
      {"date":"2023-09-08","open":26240,"high":26430,"low":25650,"close":25900},
      {"date":"2023-09-09","open":25900,"high":25950,"low":25810,"close":25890},
      {"date":"2023-09-10","open":25890,"high":25990,"low":25580,"close":25840},
      {"date":"2023-09-11","open":25840,"high":25880,"low":24950,"close":25160},
      {"date":"2023-09-12","open":25160,"high":26540,"low":25130,"close":25840},
      {"date":"2023-09-13","open":25840,"high":26400,"low":25760,"close":26230},
      {"date":"2023-09-14","open":26230,"high":26820,"low":26130,"close":26530},
      {"date":"2023-09-15","open":26530,"high":26880,"low":26230,"close":26600},
      {"date":"2023-09-16","open":26600,"high":26670,"low":26480,"close":26570},
      {"date":"2023-09-17","open":26570,"high":26620,"low":26420,"close":26530},
      {"date":"2023-09-18","open":26530,"high":27500,"low":26400,"close":27210}
    ],
    "zigzag": [
      {"date":"2022-06-11T21:00:00Z","price":25470},
      {"date":"2022-06-18T02:00:00Z","price":17607},
      {"date":"2022-08-15T07:00:00Z","price":25290},
      {"date":"2022-11-20T20:00:00Z","price":15450},
      {"date":"2023-02-16T23:00:00Z","price":25290},
      {"date":"2023-03-11T00:00:00Z","price":19660},
      {"date":"2023-03-19T19:00:00Z","price":25400}
    ],
    "structure": [
      {"date":"2022-11-21T14:00:00Z","price":15450},
      {"date":"2023-02-17T14:00:00Z","price":25290},
      {"date":"2023-03-11T00:00:00Z","price":19660},
      {"date":"2023-04-14T12:00:00Z","price":31190},
      {"date":"2023-06-13T00:00:00Z","price":24760},
      {"date":"2023-07-12T22:00:00Z","price":32060},
      {"date":"2023-09-11T00:00:00Z","price":24980},
      {"date":"2023-09-22T03:00:00Z","price":28230}
    ]
  },
  "layer": [
    {
      "data": {"name": "candles"},
      "mark": {"type": "rule", "strokeWidth": 1},
      "encoding": {
        "x": {
          "field": "date", "type": "temporal",
          "scale": {"type": "utc", "padding": 0, "domain": [{"year": 2022, "month": "apr", "date": 29, "utc": true}, {"year": 2023, "month": "nov", "date": 28, "hours": 10, "utc": true}]},
          "axis": {
            "title": null, "grid": false, "ticks": false, "domain": false,
            "values": [
              {"year": 2022, "month": "jun", "date": 1, "utc": true},
              {"year": 2022, "month": "aug", "date": 1, "utc": true},
              {"year": 2022, "month": "oct", "date": 1, "utc": true},
              {"year": 2022, "month": "nov", "date": 14, "utc": true},
              {"year": 2023, "month": "jan", "date": 1, "utc": true},
              {"year": 2023, "month": "mar", "date": 1, "utc": true},
              {"year": 2023, "month": "may", "date": 1, "utc": true},
              {"year": 2023, "month": "jul", "date": 1, "utc": true},
              {"year": 2023, "month": "sep", "date": 1, "utc": true},
              {"year": 2023, "month": "nov", "date": 1, "utc": true}
            ],
            "labelExpr": "utcdate(datum.value) != 1 ? utcFormat(datum.value, '%-d') : (utcmonth(datum.value) == 0 ? utcFormat(datum.value, '%Y') : utcFormat(datum.value, '%b'))",
            "labelFontWeight": {"condition": {"test": "utcmonth(datum.value) == 0 && utcdate(datum.value) == 1", "value": "bold"}, "value": "normal"},
            "labelFont": "DejaVu Sans Condensed", "labelFontSize": 16.5, "labelColor": "#131722",
            "labelPadding": 15, "labelOverlap": false, "labelFlush": false
          }
        },
        "y": {
          "field": "low", "type": "quantitative",
          "scale": {"type": "log", "domain": [14709, 46840], "nice": false},
          "axis": {
            "title": null, "orient": "right", "grid": false, "ticks": false, "domain": false,
            "values": [15050, 15800, 16600, 17600, 18600, 19600, 20600, 21800, 23000, 24500, 26000, 28000, 30000, 32000, 34000, 36000, 38000, 40000, 42000],
            "format": ".2f",
            "labelFont": "DejaVu Sans Condensed", "labelFontSize": 16.5, "labelColor": "#131722",
            "labelPadding": 9, "labelOverlap": false, "labelFlush": false
          }
        },
        "y2": {"field": "high"},
        "color": {"condition": {"test": "datum.close >= datum.open", "value": "#4caf50"}, "value": "#f23645"}
      }
    },
    {
      "data": {"name": "candles"},
      "mark": {"type": "bar", "size": 2.4},
      "encoding": {
        "x": {"field": "date", "type": "temporal"},
        "y": {"field": "open", "type": "quantitative"},
        "y2": {"field": "close"},
        "color": {"condition": {"test": "datum.close >= datum.open", "value": "#4caf50"}, "value": "#f23645"}
      }
    },
    {
      "data": {"name": "zigzag"},
      "mark": {"type": "area", "color": "#089981", "opacity": 0.15},
      "encoding": {
        "x": {"field": "date", "type": "temporal"},
        "y": {"field": "price", "type": "quantitative"},
        "y2": {"datum": 25290}
      }
    },
    {
      "data": {"values": [{"date": "2022-05-06T18:00:00Z", "date2": "2023-11-02T02:00:00Z", "price": 25290}]},
      "mark": {"type": "rule", "strokeWidth": 3, "color": "#131722"},
      "encoding": {
        "x": {"field": "date", "type": "temporal"},
        "x2": {"field": "date2"},
        "y": {"field": "price", "type": "quantitative"}
      }
    },
    {
      "data": {"values": [{"date": "2022-06-12T22:00:00Z", "date2": "2023-03-19T19:00:00Z", "price": 25290}]},
      "mark": {"type": "rule", "strokeWidth": 2.5, "strokeDash": [2.5, 3], "color": "#089981"},
      "encoding": {
        "x": {"field": "date", "type": "temporal"},
        "x2": {"field": "date2"},
        "y": {"field": "price", "type": "quantitative"}
      }
    },
    {
      "data": {"name": "structure"},
      "mark": {"type": "line", "strokeWidth": 1.4, "color": "#4caf50"},
      "encoding": {
        "x": {"field": "date", "type": "temporal"},
        "y": {"field": "price", "type": "quantitative"}
      }
    },
    {
      "data": {"name": "zigzag"},
      "mark": {"type": "line", "strokeWidth": 3, "color": "#089981"},
      "encoding": {
        "x": {"field": "date", "type": "temporal"},
        "y": {"field": "price", "type": "quantitative"}
      }
    },
    {
      "data": {"values": [{"date": "2023-09-22T03:00:00Z", "price": 28230}]},
      "mark": {"type": "point", "shape": "M-1,1L0,0L1,1", "size": 243, "angle": 16.4, "filled": false, "stroke": "#4caf50", "strokeWidth": 1.4, "opacity": 1},
      "encoding": {
        "x": {"field": "date", "type": "temporal"},
        "y": {"field": "price", "type": "quantitative"}
      }
    },
    {
      "data": {"values": [
        {"date": "2022-12-02T12:00:00Z", "price": 15540, "price2": 25290},
        {"date": "2023-10-06T21:00:00Z", "price": 25326, "price2": 41060}
      ]},
      "mark": {"type": "rule", "strokeWidth": 1, "color": "#131722"},
      "encoding": {
        "x": {"field": "date", "type": "temporal"},
        "y": {"field": "price", "type": "quantitative"},
        "y2": {"field": "price2"}
      }
    },
    {
      "data": {"values": [
        {"date": "2022-11-20T19:00:00Z", "date2": "2022-12-14T02:00:00Z", "price": 15540},
        {"date": "2023-09-24T17:00:00Z", "date2": "2023-10-18T00:00:00Z", "price": 41060},
        {"date": "2023-09-24T17:00:00Z", "date2": "2023-10-18T00:00:00Z", "price": 25326}
      ]},
      "mark": {"type": "rule", "strokeWidth": 1, "color": "#131722"},
      "encoding": {
        "x": {"field": "date", "type": "temporal"},
        "x2": {"field": "date2"},
        "y": {"field": "price", "type": "quantitative"}
      }
    },
    {
      "data": {"values": [
        {"date": "2022-12-02T12:00:00Z", "price": 25290},
        {"date": "2023-10-06T21:00:00Z", "price": 41060}
      ]},
      "mark": {"type": "point", "shape": "M-1,1L0,0L1,1", "size": 196, "filled": false, "stroke": "#131722", "strokeWidth": 1, "opacity": 1},
      "encoding": {
        "x": {"field": "date", "type": "temporal"},
        "y": {"field": "price", "type": "quantitative"}
      }
    },
    {
      "data": {"values": [
        {"date": "2022-10-27T19:00:00Z", "date2": "2023-01-06T23:00:00Z", "price": 25693, "price2": 26712},
        {"date": "2023-08-28T12:00:00Z", "date2": "2023-11-14T10:00:00Z", "price": 41730, "price2": 43412}
      ]},
      "mark": {"type": "rect", "fill": "white", "stroke": "#e0e3eb", "strokeWidth": 1, "cornerRadius": 6},
      "encoding": {
        "x": {"field": "date", "type": "temporal"},
        "x2": {"field": "date2"},
        "y": {"field": "price", "type": "quantitative"},
        "y2": {"field": "price2"}
      }
    },
    {
      "data": {"values": [
        {"date": "2022-12-02T09:00:00Z", "price": 26199, "label": "9711.06 (62.40%) 971106"},
        {"date": "2023-10-06T11:00:00Z", "price": 42564, "label": "15717.41 (62.06%) 1571741"}
      ]},
      "mark": {"type": "text", "fontSize": 16.8, "color": "#131722", "align": "center", "baseline": "middle"},
      "encoding": {
        "x": {"field": "date", "type": "temporal"},
        "y": {"field": "price", "type": "quantitative"},
        "text": {"field": "label"}
      }
    },
    {
      "data": {"values": [
        {"date": "2022-05-30T02:00:00Z", "date2": "2022-07-07T03:00:00Z", "price": 16900, "price2": 17430},
        {"date": "2022-11-12T13:00:00Z", "date2": "2022-11-29T09:00:00Z", "price": 14851, "price2": 15347},
        {"date": "2023-02-18T13:00:00Z", "date2": "2023-03-31T03:00:00Z", "price": 18969, "price2": 19561}
      ]},
      "mark": {"type": "rect", "fill": "#089981", "cornerRadius": 5},
      "encoding": {
        "x": {"field": "date", "type": "temporal"},
        "x2": {"field": "date2"},
        "y": {"field": "price", "type": "quantitative"},
        "y2": {"field": "price2"}
      }
    },
    {
      "data": {"values": [
        {"date": "2022-06-18T02:00:00Z", "price": 17160, "label": "Left Shoulder"},
        {"date": "2022-11-21T00:00:00Z", "price": 15097, "label": "Head"},
        {"date": "2023-03-10T20:00:00Z", "price": 19262, "label": "Right Shoulder"}
      ]},
      "mark": {"type": "text", "fontSize": 15, "fontWeight": "bold", "color": "white", "align": "center", "baseline": "middle"},
      "encoding": {
        "x": {"field": "date", "type": "temporal"},
        "y": {"field": "price", "type": "quantitative"},
        "text": {"field": "label"}
      }
    },
    {
      "data": {"values": [
        {"date": "2023-02-15T19:00:00Z", "price": 26534, "label": "Higher High"},
        {"date": "2023-04-12T17:00:00Z", "price": 32487, "label": "Higher High"},
        {"date": "2023-07-10T05:00:00Z", "price": 33689, "label": "Higher High"},
        {"date": "2023-03-10T17:00:00Z", "price": 18427, "label": "Higher Low"},
        {"date": "2023-06-12T14:00:00Z", "price": 24071, "label": "Higher Low"},
        {"date": "2023-09-11T03:00:00Z", "price": 24641, "label": "Equal Low"}
      ]},
      "mark": {"type": "text", "fontSize": 20.5, "color": "#131722", "align": "center", "baseline": "middle"},
      "encoding": {
        "x": {"field": "date", "type": "temporal"},
        "y": {"field": "price", "type": "quantitative"},
        "text": {"field": "label"}
      }
    },
    {
      "data": {"values": [{"date": "2023-09-03T14:00:00Z", "price": 40424, "label": "$41,000"}]},
      "mark": {"type": "text", "fontSize": 29, "color": "#131722", "align": "center", "baseline": "middle"},
      "encoding": {
        "x": {"field": "date", "type": "temporal"},
        "y": {"field": "price", "type": "quantitative"},
        "text": {"field": "label"}
      }
    },
    {
      "data": {"values": [{"date": "2022-09-17T18:00:00Z", "price": 41973, "label": "Market Structure"}]},
      "mark": {"type": "text", "fontSize": 48, "color": "#000000", "align": "center", "baseline": "alphabetic"},
      "encoding": {
        "x": {"field": "date", "type": "temporal"},
        "y": {"field": "price", "type": "quantitative"},
        "text": {"field": "label"}
      }
    },
    {
      "data": {"values": [{"date": "2022-09-15T23:00:00Z", "price": 39567, "label": "June 2022 - September 2023"}]},
      "mark": {"type": "text", "fontSize": 29.4, "color": "#000000", "align": "center", "baseline": "alphabetic"},
      "encoding": {
        "x": {"field": "date", "type": "temporal"},
        "y": {"field": "price", "type": "quantitative"},
        "text": {"field": "label"}
      }
    },
    {
      "data": {"values": [{"date": "2022-05-17T15:00:00Z", "date2": "2022-06-29T09:00:00Z", "price": 38906, "price2": 44876}]},
      "mark": {"type": "rect", "fill": "#000000"},
      "encoding": {
        "x": {"field": "date", "type": "temporal"},
        "x2": {"field": "date2"},
        "y": {"field": "price", "type": "quantitative"},
        "y2": {"field": "price2"}
      }
    },
    {
      "data": {"values": [{"date": "2022-06-08T00:00:00Z", "price": 41782}]},
      "mark": {"type": "point", "shape": "M0.115,-0.448A0.633,0.633 0 1,0 0.115,0.448 M0.744,-0.429A0.667,0.667 0 1,0 0.744,0.429L0.565,0.278A0.433,0.433 0 1,1 0.565,-0.278Z", "size": 3600, "filled": false, "stroke": "white", "strokeWidth": 2.4, "opacity": 1},
      "encoding": {
        "x": {"field": "date", "type": "temporal"},
        "y": {"field": "price", "type": "quantitative"}
      }
    },
    {
      "data": {"values": [{"date": "2022-05-11T19:00:00Z", "price": 15206}]},
      "mark": {"type": "point", "shape": "M-1,-0.5L-0.318,-0.5L-0.318,0.5L-0.65,0.5L-0.65,-0.105L-1,-0.105Z M-0.072,-0.286A0.195,0.195 0 1,0 0.318,-0.286A0.195,0.195 0 1,0 -0.072,-0.286Z M0.409,-0.5L1,-0.5L0.559,0.5L0.059,0.5Z", "size": 1936, "filled": true, "fill": "#131722", "strokeWidth": 0, "opacity": 1},
      "encoding": {
        "x": {"field": "date", "type": "temporal"},
        "y": {"field": "price", "type": "quantitative"}
      }
    },
    {
      "data": {"values": [{"date": "2022-04-29T00:00:00Z", "date2": "2023-12-28T20:00:00Z", "price": 14709}]},
      "mark": {"type": "rule", "strokeWidth": 1.3, "color": "#131722"},
      "encoding": {
        "x": {"field": "date", "type": "temporal"},
        "x2": {"field": "date2"},
        "y": {"field": "price", "type": "quantitative"}
      }
    },
    {
      "data": {"values": [{"date": "2023-11-28T10:00:00Z", "price": 14084, "price2": 44657}]},
      "mark": {"type": "rule", "strokeWidth": 1.3, "color": "#131722"},
      "encoding": {
        "x": {"field": "date", "type": "temporal"},
        "y": {"field": "price", "type": "quantitative"},
        "y2": {"field": "price2"}
      }
    },
    {
      "data": {"values": [{"date": "2023-11-29T17:00:00Z", "date2": "2023-12-26T14:00:00Z", "price": 44896, "price2": 46345}]},
      "mark": {"type": "rect", "fill": "white", "stroke": "#e0e3eb", "strokeWidth": 1, "cornerRadius": 6},
      "encoding": {
        "x": {"field": "date", "type": "temporal"},
        "x2": {"field": "date2"},
        "y": {"field": "price", "type": "quantitative"},
        "y2": {"field": "price2"}
      }
    },
    {
      "data": {"values": [{"date": "2023-11-30T23:00:00Z", "price": 45614, "label": "USD"}]},
      "mark": {"type": "text", "fontSize": 14.5, "fontWeight": "bold", "color": "#131722", "align": "left", "baseline": "middle"},
      "encoding": {
        "x": {"field": "date", "type": "temporal"},
        "y": {"field": "price", "type": "quantitative"},
        "text": {"field": "label"}
      }
    },
    {
      "data": {"values": [{"date": "2023-12-23T00:00:00Z", "price": 45614}]},
      "mark": {"type": "point", "shape": "M-1,-0.5L0,0.5L1,-0.5", "size": 49, "filled": false, "stroke": "#131722", "strokeWidth": 1.5, "opacity": 1},
      "encoding": {
        "x": {"field": "date", "type": "temporal"},
        "y": {"field": "price", "type": "quantitative"}
      }
    },
    {
      "data": {"values": [{"date": "2023-12-13T00:00:00Z", "price": 14363}]},
      "mark": {"type": "point", "shape": "M-1,0L-0.5,-0.866L0.5,-0.866L1,0L0.5,0.866L-0.5,0.866Z", "size": 400, "filled": false, "stroke": "#131722", "strokeWidth": 1.3, "opacity": 1},
      "encoding": {
        "x": {"field": "date", "type": "temporal"},
        "y": {"field": "price", "type": "quantitative"}
      }
    },
    {
      "data": {"values": [{"date": "2023-12-13T00:00:00Z", "price": 14363}]},
      "mark": {"type": "point", "shape": "circle", "size": 64, "filled": false, "stroke": "#131722", "strokeWidth": 1.3, "opacity": 1},
      "encoding": {
        "x": {"field": "date", "type": "temporal"},
        "y": {"field": "price", "type": "quantitative"}
      }
    }
  ]
}
